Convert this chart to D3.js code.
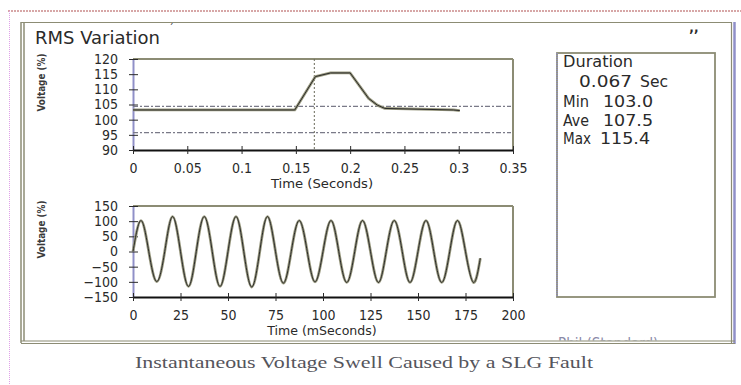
<!DOCTYPE html>
<html>
<head>
<meta charset="utf-8">
<script src="https://cdn.jsdelivr.net/npm/d3@7"></script>
<style>
  body { margin: 0; background: #fff; }
  svg { display: block; }
  .tick text { font-family: "DejaVu Sans Condensed", "Liberation Sans Narrow", "Liberation Sans", sans-serif; font-size: 14px; fill: #2a2a2a; }
</style>
</head>
<body>
<svg class="chart" width="741" height="385"></svg>
<script>
// RMS trace (seconds, % of nominal)
const rmsTime = [0, 0.149, 0.168, 0.182, 0.2, 0.217, 0.225, 0.232, 0.295, 0.301];
const rmsValue = [103.2, 103.2, 114.2, 115.4, 115.4, 107.0, 104.8, 103.7, 103.2, 103.0];
const rmsLimits = [104.4, 95.7];
const eventTime = 0.167;
const rmsTicksX = [0, 0.05, 0.1, 0.15, 0.2, 0.25, 0.3, 0.35];
const rmsTicksY = [90, 95, 100, 105, 110, 115, 120];

// instantaneous waveform (milliseconds, %)
const waveTime = [0, 4.2, 8.3, 12.5, 16.7, 20.8, 25.0, 29.2, 33.3, 37.5, 41.7, 45.8, 50.0, 54.2, 58.3,
  62.5, 66.7, 70.8, 75.0, 79.2, 83.3, 87.5, 91.7, 95.8, 100.0, 104.2, 108.3, 112.5, 116.7, 120.8,
  125.0, 129.2, 133.3, 137.5, 141.7, 145.8, 150.0, 154.2, 158.3, 162.5, 166.7, 170.8, 175.0, 179.2, 182.8];
const waveValue = [0, 102, 0, -99, 0, 115, 0, -115, 0, 115, 0, -115, 0, 115, 0,
  -117, 0, 115, 0, -104, 0, 102, 0, -100, 0, 102, 0, -102, 0, 102,
  0, -102, 0, 102, 0, -102, 0, 102, 0, -102, 0, 102, 0, -102, -22];
const waveTicksX = [0, 25, 50, 75, 100, 125, 150, 175, 200];
const waveTicksY = [-150, -100, -50, 0, 50, 100, 150];

const durationValue = '0.067';
const statLabels = ['Min', 'Ave', 'Max'];
const statValues = ['103.0', '107.5', '115.4'];

const FRAME = '#8c8c74';
const TRACE = '#9a9a80';
const INK = '#2a2a2a';
const BLUE = '#9090c8';
const UI_FONT = '"DejaVu Sans Condensed", "Liberation Sans Narrow", "Liberation Sans", sans-serif';

const svg = d3.select('.chart');

// page decorations
svg.append('line').attr('x1', 8).attr('x2', 741).attr('y1', 11).attr('y2', 11)
  .attr('stroke', '#b05050').attr('stroke-width', 1.2).attr('stroke-dasharray', '2,1');
svg.append('line').attr('x1', 9.5).attr('x2', 9.5).attr('y1', 11).attr('y2', 385)
  .attr('stroke', '#e0a0e8').attr('stroke-width', 1).attr('stroke-dasharray', '1,1');

// panel frame (double lines)
svg.append('line').attr('x1', 21).attr('x2', 21).attr('y1', 22).attr('y2', 343)
  .attr('stroke', FRAME).attr('stroke-width', 1.5);
svg.append('line').attr('x1', 24).attr('x2', 24).attr('y1', 22).attr('y2', 341)
  .attr('stroke', FRAME).attr('stroke-width', 1.5);
svg.append('line').attr('x1', 21).attr('x2', 732).attr('y1', 22.5).attr('y2', 22.5)
  .attr('stroke', FRAME).attr('stroke-width', 1.2);
svg.append('line').attr('x1', 731.5).attr('x2', 731.5).attr('y1', 22).attr('y2', 343)
  .attr('stroke', FRAME).attr('stroke-width', 1.2);
svg.append('line').attr('x1', 734.5).attr('x2', 734.5).attr('y1', 22).attr('y2', 344)
  .attr('stroke', BLUE).attr('stroke-width', 2.5);

// clipped label peeking above the bottom edge
svg.append('clipPath').attr('id', 'peek').append('rect')
  .attr('x', 540).attr('y', 300).attr('width', 190).attr('height', 40.5);
svg.append('text').attr('clip-path', 'url(#peek)')
  .attr('x', 558).attr('y', 349).attr('font-family', UI_FONT).attr('font-size', 15)
  .attr('fill', '#8a8aa8').text('Phil (Standard) ...');

svg.append('line').attr('x1', 21).attr('x2', 735).attr('y1', 341).attr('y2', 341)
  .attr('stroke', FRAME).attr('stroke-width', 1.2);
svg.append('line').attr('x1', 21).attr('x2', 735).attr('y1', 343.5).attr('y2', 343.5)
  .attr('stroke', FRAME).attr('stroke-width', 1.2);

svg.append('text').attr('x', 689).attr('y', 32).attr('font-family', UI_FONT)
  .attr('font-size', 14).attr('font-weight', 'bold').attr('fill', INK).text('\u201a\u201a');
svg.append('text').attr('x', 169).attr('y', 32).attr('font-family', UI_FONT)
  .attr('font-size', 10).attr('fill', INK).text('\u02ca');

svg.append('text').attr('x', 35).attr('y', 44).attr('font-family', UI_FONT)
  .attr('font-size', 17).attr('fill', INK)
  .attr('textLength', 125).attr('lengthAdjust', 'spacingAndGlyphs')
  .text('RMS Variation');

// shared plot builder
const drawPlot = ({ top, bottom, xDomain, yDomain, xTicks, yTicks, xFormat, yFormat, xTitle }) => {
  const left = 133;
  const right = 513;
  const x = d3.scaleLinear().domain(xDomain).range([left, right]);
  const y = d3.scaleLinear().domain(yDomain).range([bottom, top]);

  svg.append('line').attr('x1', left).attr('x2', right).attr('y1', top).attr('y2', top)
    .attr('stroke', FRAME).attr('stroke-width', 2);
  svg.append('line').attr('x1', right).attr('x2', right).attr('y1', top).attr('y2', bottom)
    .attr('stroke', FRAME).attr('stroke-width', 2);

  const gy = svg.append('g').attr('transform', `translate(${left},0)`)
    .call(d3.axisLeft(y).tickValues(yTicks).tickFormat(yFormat)
      .tickSizeInner(4).tickSizeOuter(0).tickPadding(11));
  gy.select('.domain').attr('stroke', BLUE).attr('stroke-width', 2);
  gy.selectAll('.tick line').attr('x2', -4).attr('x1', 5).attr('stroke', INK);

  const gx = svg.append('g').attr('transform', `translate(0,${bottom})`)
    .call(d3.axisBottom(x).tickValues(xTicks).tickFormat(xFormat)
      .tickSizeInner(4).tickSizeOuter(0).tickPadding(9));
  gx.select('.domain').attr('stroke', '#111').attr('stroke-width', 2);
  gx.selectAll('.tick line').attr('y1', -4).attr('y2', 4).attr('stroke', INK);

  svg.append('text').attr('x', (left + right) / 2 - 1).attr('y', bottom + 38)
    .attr('text-anchor', 'middle').attr('font-family', UI_FONT).attr('font-size', 13)
    .attr('fill', INK).attr('textLength', xTitle.length * 7.3).attr('lengthAdjust', 'spacingAndGlyphs')
    .text(xTitle);

  svg.append('text')
    .attr('transform', `translate(45,${(top + bottom) / 2 - 22})rotate(-90)`)
    .attr('text-anchor', 'middle').attr('font-family', UI_FONT).attr('font-size', 11)
    .attr('font-weight', 'bold')
    .attr('fill', '#3a3a3a').attr('textLength', 58).attr('lengthAdjust', 'spacingAndGlyphs')
    .text('Voltage (%)');

  return { x, y };
};

const trace = (path) => {
  svg.append('path').attr('d', path).attr('fill', 'none')
    .attr('stroke', TRACE).attr('stroke-width', 2.8).attr('stroke-linejoin', 'round');
  svg.append('path').attr('d', path).attr('fill', 'none')
    .attr('stroke', '#2a2a2a').attr('stroke-width', 1).attr('stroke-linejoin', 'round');
};

// upper: RMS
const rms = drawPlot({
  top: 59,
  bottom: 150,
  xDomain: [0, 0.35],
  yDomain: [90, 120],
  xTicks: rmsTicksX,
  yTicks: rmsTicksY,
  xFormat: (d) => String(d),
  yFormat: (d) => String(d),
  xTitle: 'Time (Seconds)',
});

svg.selectAll('.limit')
  .data(rmsLimits)
  .enter()
  .append('line')
  .attr('x1', rms.x(0)).attr('x2', rms.x(0.35) - 2)
  .attr('y1', (d) => rms.y(d)).attr('y2', (d) => rms.y(d))
  .attr('stroke', '#7a7a88').attr('stroke-width', 1.3).attr('stroke-dasharray', '5,2,2,2');

svg.append('line')
  .attr('x1', rms.x(eventTime)).attr('x2', rms.x(eventTime))
  .attr('y1', 59).attr('y2', 150)
  .attr('stroke', '#6a6a5a').attr('stroke-width', 1).attr('stroke-dasharray', '2,2');

const rmsLine = d3.line().x((d) => rms.x(d[0])).y((d) => rms.y(d[1]));
trace(rmsLine(d3.zip(rmsTime, rmsValue)));

// lower: waveform
const wave = drawPlot({
  top: 206,
  bottom: 297,
  xDomain: [0, 200],
  yDomain: [-150, 150],
  xTicks: waveTicksX,
  yTicks: waveTicksY,
  xFormat: (d) => String(d),
  yFormat: (d) => (d < 0 ? `\u2212${Math.abs(d)}` : String(d)),
  xTitle: 'Time (mSeconds)',
});

const waveLine = d3.line().curve(d3.curveNatural)
  .x((d) => wave.x(d[0])).y((d) => wave.y(d[1]));
trace(waveLine(d3.zip(waveTime, waveValue)));

// summary box
svg.append('rect').attr('x', 557).attr('y', 53).attr('width', 158).attr('height', 244)
  .attr('fill', 'none').attr('stroke', FRAME).attr('stroke-width', 1.8);
svg.append('line').attr('x1', 557).attr('x2', 557).attr('y1', 53).attr('y2', 297)
  .attr('stroke', BLUE).attr('stroke-width', 1.5).attr('stroke-dasharray', '1,1');

const box = svg.append('g').attr('font-family', UI_FONT).attr('font-size', 15).attr('fill', INK);
box.append('text').attr('x', 563).attr('y', 67)
  .attr('textLength', 70).attr('lengthAdjust', 'spacingAndGlyphs').text('Duration');
box.append('text').attr('x', 579).attr('y', 87)
  .attr('textLength', 53).attr('lengthAdjust', 'spacingAndGlyphs').text(durationValue);
box.append('text').attr('x', 640).attr('y', 87)
  .attr('textLength', 28).attr('lengthAdjust', 'spacingAndGlyphs').text('Sec');

box.selectAll('.stat-label')
  .data(statLabels)
  .enter()
  .append('text')
  .attr('x', 563)
  .attr('y', (d, i) => 107 + i * 18.7)
  .attr('textLength', (d) => (d === 'Max' ? 28 : 26)).attr('lengthAdjust', 'spacingAndGlyphs')
  .text((d) => d);

box.selectAll('.stat-value')
  .data(statValues)
  .enter()
  .append('text')
  .attr('x', (d, i) => (i === 2 ? 600 : 603))
  .attr('y', (d, i) => 107 + i * 18.7)
  .attr('textLength', 50).attr('lengthAdjust', 'spacingAndGlyphs')
  .text((d) => d);

// caption
svg.append('text').attr('x', 135).attr('y', 368)
  .attr('font-family', '"Liberation Serif", "Times New Roman", serif').attr('font-size', 17.5)
  .attr('fill', '#55555c').attr('textLength', 458).attr('lengthAdjust', 'spacingAndGlyphs')
  .text('Instantaneous Voltage Swell Caused by a SLG Fault');
</script>
</body>
</html>
